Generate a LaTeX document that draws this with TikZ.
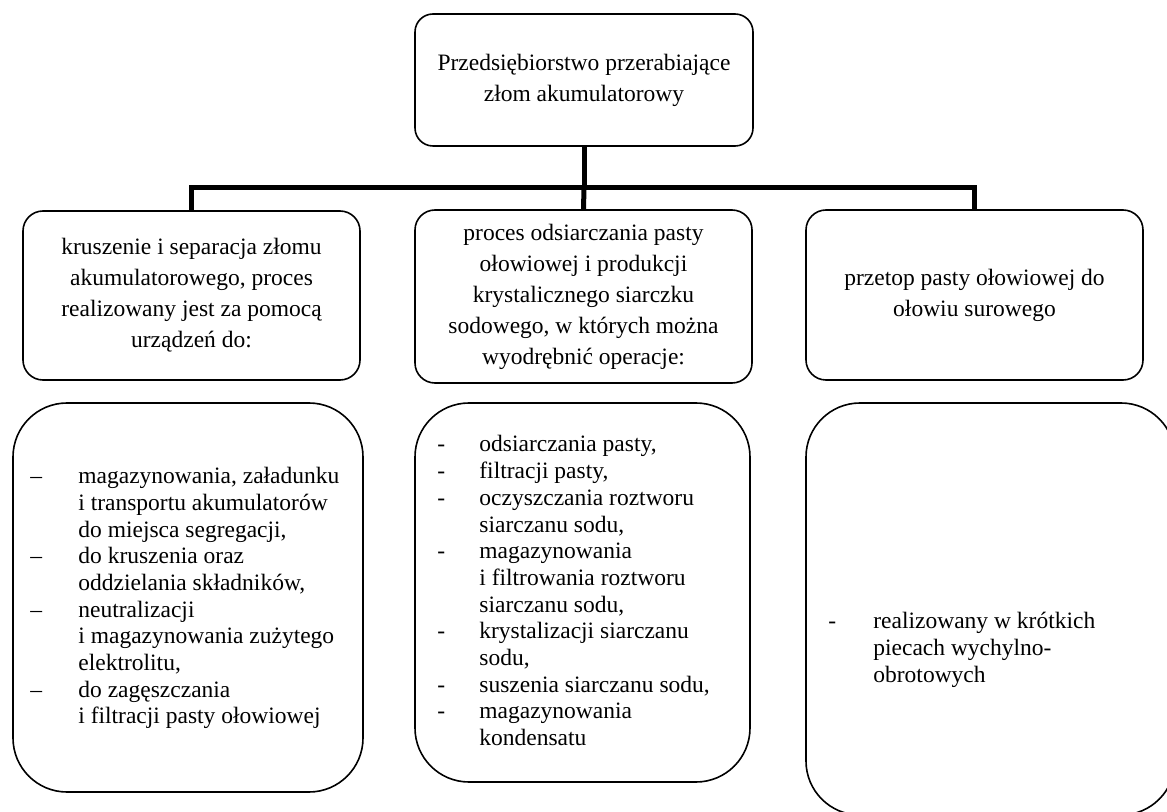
\documentclass[tikz,border=0pt]{standalone}
\usepackage{fontspec}
\setmainfont{Liberation Serif}
\usepackage{array}
\begin{document}
\begin{tikzpicture}[x=0.5pt,y=-0.5pt,
  box/.style={draw,line width=0.8pt,inner sep=0pt,align=center,
    font=\fontsize{11.75}{15.5}\selectfont},
  topbox/.style={box,rounded corners=9pt},
  midbox/.style={box,rounded corners=10pt},
  lowbox/.style={box,rounded corners=27pt},
  listtext/.style={inner sep=0pt,anchor=west,align=left,
    font=\fontsize{11.75}{13.35}\selectfont},
  conn/.style={line width=2.5pt}]
\useasboundingbox (0,0) rectangle (1167,812);
\begin{scope}
\clip (0,0) rectangle (1167,812);
% top
\node[topbox,minimum width=169pt,minimum height=66pt] (top) at (584,80)
  {Przedsiębiorstwo przerabiające\\złom akumulatorowy};
% row 2
\node[midbox,minimum width=168.5pt,minimum height=84.5pt] (l2) at (191.5,295.5)
  {kruszenie i separacja złomu\\akumulatorowego, proces\\realizowany jest za pomocą\\urządzeń do:};
\node[midbox,minimum width=168.5pt,minimum height=86.5pt] (m2) at (583.5,296.5)
  {proces odsiarczania pasty\\ołowiowej i produkcji\\krystalicznego siarczku\\sodowego, w których można\\wyodrębnić operacje:};
\node[midbox,minimum width=168.5pt,minimum height=85pt] (r2) at (974.5,295)
  {przetop pasty ołowiowej do\\ołowiu surowego};
% row 3
\node[lowbox,minimum width=175pt,minimum height=194.5pt] (l3) at (188,597.5) {};
\node[lowbox,minimum width=167.5pt,minimum height=189.5pt] (m3) at (582.5,592.5) {};
\node[lowbox,minimum width=184.5pt,minimum height=206pt] (r3) at (990.5,609) {};
% lists
\node[listtext] (l3t) at (30,598.5) {%
\begin{tabular}{@{}p{24pt}@{}l@{}}
–& magazynowania, załadunku\\
 & i transportu akumulatorów\\
 & do miejsca segregacji,\\
–& do kruszenia oraz\\
 & oddzielania składników,\\
–& neutralizacji\\
 & i magazynowania zużytego\\
 & elektrolitu,\\
–& do zagęszczania\\
 & i filtracji pasty ołowiowej
\end{tabular}};
\node[listtext] (m3t) at (437,593.5) {%
\begin{tabular}{@{}p{21pt}@{}l@{}}
-& odsiarczania pasty,\\
-& filtracji pasty,\\
-& oczyszczania roztworu\\
 & siarczanu sodu,\\
-& magazynowania\\
 & i filtrowania roztworu\\
 & siarczanu sodu,\\
-& krystalizacji siarczanu\\
 & sodu,\\
-& suszenia siarczanu sodu,\\
-& magazynowania\\
 & kondensatu
\end{tabular}};
\node[listtext] (r3t) at (828,650) {%
\begin{tabular}{@{}p{22.5pt}@{}l@{}}
-& realizowany w krótkich\\
 & piecach wychylno-\\
 & obrotowych
\end{tabular}};
% connectors
\coordinate (bar) at (584,188);
\draw[conn] (top.south) -- (bar);
\draw[conn] (l2.north) |- (bar) -| (r2.north);
\draw[conn] (bar) -- (m2.north);
\end{scope}
\end{tikzpicture}
\end{document}
